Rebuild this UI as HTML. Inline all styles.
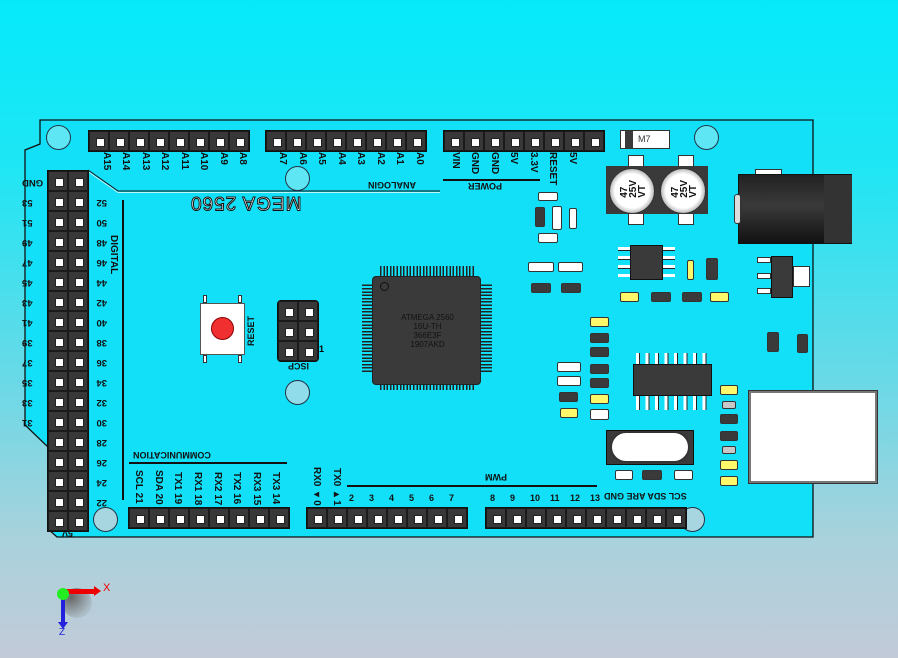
<!DOCTYPE html>
<html><head><meta charset="utf-8">
<style>
*{margin:0;padding:0;box-sizing:border-box}
body{width:898px;height:658px;overflow:hidden;position:relative;font-family:"Liberation Sans",sans-serif;
background:linear-gradient(180deg,#05eafa 0%,#1ee6f4 25%,#6fd8e6 60%,#a9d2dc 82%,#c2cad8 100%);}
.a{position:absolute}
.hdr{position:absolute;display:flex;background:#333;border:1px solid #111}
.hdr i,.grid i{display:block;width:20px;height:20px;border:1px solid #1a1a1a;background:#383838;position:relative}
.hdr i:after,.grid i:after{content:"";position:absolute;left:6px;top:6px;width:7px;height:7px;background:#fff;border:1px solid #222}
.grid{position:absolute;display:grid;grid-template-columns:20px 20px;background:#333;border:1px solid #111}
.hole{position:absolute;border-radius:50%;border:1px solid #234;background:#5fe6f4}
.vt{position:absolute;writing-mode:vertical-rl;font-size:10px;color:#111;font-weight:bold;line-height:10px;white-space:nowrap}
.ud{position:absolute;transform:rotate(180deg);font-size:10px;color:#111;font-weight:bold;white-space:nowrap}
.ln{position:absolute;background:#111}
.smd{position:absolute;border:1px solid #333;border-radius:2px}
.w{background:#fff}.y{background:#fff86a}.d{background:#3a3a3a}.g{background:#c8c8c8}
</style></head><body>

<!-- board -->
<svg class="a" style="left:0;top:0" width="898" height="658">
<polygon points="40,120 813,120 813,537 57,537 48,529 48,447 25,425 25,150 40,144" fill="#12e0f8" stroke="#111" stroke-width="1.3"/>
<polyline points="88,170 118,191 440,191" fill="none" stroke="#111" stroke-width="1"/>
<polyline points="88,170 118,191 440,191" fill="none" stroke="#fff" stroke-width="1" transform="translate(0,1.5)" opacity=".7"/>
</svg>

<!-- holes -->
<div class="hole" style="left:46px;top:125px;width:25px;height:25px"></div>
<div class="hole" style="left:285px;top:166px;width:25px;height:25px"></div>
<div class="hole" style="left:694px;top:125px;width:25px;height:25px"></div>
<div class="hole" style="left:285px;top:380px;width:25px;height:25px;background:#90dcea"></div>
<div class="hole" style="left:93px;top:507px;width:25px;height:25px;background:#a8d6e0"></div>
<div class="hole" style="left:680px;top:507px;width:25px;height:25px;background:#a8d6e0"></div>

<!-- top headers -->
<div class="hdr" style="left:88px;top:130px"><i></i><i></i><i></i><i></i><i></i><i></i><i></i><i></i></div>
<div class="hdr" style="left:265px;top:130px"><i></i><i></i><i></i><i></i><i></i><i></i><i></i><i></i></div>
<div class="hdr" style="left:443px;top:130px"><i></i><i></i><i></i><i></i><i></i><i></i><i></i><i></i></div>
<!-- top labels -->
<div class="vt" style="left:101px;top:152px">A15</div><div class="vt" style="left:120px;top:152px">A14</div>
<div class="vt" style="left:140px;top:152px">A13</div><div class="vt" style="left:159px;top:152px">A12</div>
<div class="vt" style="left:179px;top:152px">A11</div><div class="vt" style="left:198px;top:152px">A10</div>
<div class="vt" style="left:218px;top:152px">A9</div><div class="vt" style="left:237px;top:152px">A8</div>
<div class="vt" style="left:277px;top:152px">A7</div><div class="vt" style="left:297px;top:152px">A6</div>
<div class="vt" style="left:316px;top:152px">A5</div><div class="vt" style="left:336px;top:152px">A4</div>
<div class="vt" style="left:355px;top:152px">A3</div><div class="vt" style="left:375px;top:152px">A2</div>
<div class="vt" style="left:394px;top:152px">A1</div><div class="vt" style="left:414px;top:152px">A0</div>
<div class="vt" style="left:450px;top:152px">VIN</div><div class="vt" style="left:469px;top:152px">GND</div>
<div class="vt" style="left:489px;top:152px">GND</div><div class="vt" style="left:508px;top:152px">5V</div>
<div class="vt" style="left:528px;top:152px">3.3V</div><div class="vt" style="left:547px;top:152px">RESET</div>
<div class="vt" style="left:567px;top:152px">5V</div>
<div class="ln" style="left:443px;top:179px;width:97px;height:1.5px"></div>
<div class="ud" style="left:468px;top:181px;font-size:9px">POWER</div>
<div class="ud" style="left:368px;top:180px;font-size:9px">ANALOGIN</div>
<div class="ud" style="left:190px;top:191px;font-size:19px;font-weight:normal;letter-spacing:1px;color:#fff;-webkit-text-stroke:1px #111">MEGA 2560</div>

<!-- left header -->
<div class="grid" style="left:47px;top:170px">
<i></i><i></i><i></i><i></i><i></i><i></i><i></i><i></i><i></i><i></i><i></i><i></i><i></i><i></i><i></i><i></i><i></i><i></i>
<i></i><i></i><i></i><i></i><i></i><i></i><i></i><i></i><i></i><i></i><i></i><i></i><i></i><i></i><i></i><i></i><i></i><i></i>
</div>
<div class="a" style="left:22px;top:173px;width:24px;font-size:9.5px;font-weight:bold;line-height:20px;text-align:right;transform:rotate(180deg);transform-origin:12px 180px;color:#111">
</div>
<div class="a" style="left:22px;top:172px;width:24px;font-size:9.5px;font-weight:bold;line-height:20px;text-align:right;color:#111">
<div style="transform:rotate(180deg)">GND</div><div style="transform:rotate(180deg)">53</div><div style="transform:rotate(180deg)">51</div><div style="transform:rotate(180deg)">49</div><div style="transform:rotate(180deg)">47</div><div style="transform:rotate(180deg)">45</div><div style="transform:rotate(180deg)">43</div><div style="transform:rotate(180deg)">41</div><div style="transform:rotate(180deg)">39</div><div style="transform:rotate(180deg)">37</div><div style="transform:rotate(180deg)">35</div><div style="transform:rotate(180deg)">33</div><div style="transform:rotate(180deg)">31</div>
</div>
<div class="a" style="left:89px;top:192px;width:18px;font-size:9.5px;font-weight:bold;line-height:20px;color:#111">
<div style="transform:rotate(180deg)">52</div><div style="transform:rotate(180deg)">50</div><div style="transform:rotate(180deg)">48</div><div style="transform:rotate(180deg)">46</div><div style="transform:rotate(180deg)">44</div><div style="transform:rotate(180deg)">42</div><div style="transform:rotate(180deg)">40</div><div style="transform:rotate(180deg)">38</div><div style="transform:rotate(180deg)">36</div><div style="transform:rotate(180deg)">34</div><div style="transform:rotate(180deg)">32</div><div style="transform:rotate(180deg)">30</div><div style="transform:rotate(180deg)">28</div><div style="transform:rotate(180deg)">26</div><div style="transform:rotate(180deg)">24</div><div style="transform:rotate(180deg)">22</div>
</div>
<div class="ud" style="left:62px;top:528px;font-size:9px">5V</div>
<div class="ln" style="left:122px;top:200px;width:1.5px;height:300px"></div>
<div class="vt" style="left:108px;top:235px">DIGITAL</div>

<!-- bottom headers -->
<div class="hdr" style="left:128px;top:507px"><i></i><i></i><i></i><i></i><i></i><i></i><i></i><i></i></div>
<div class="hdr" style="left:306px;top:507px"><i></i><i></i><i></i><i></i><i></i><i></i><i></i><i></i></div>
<div class="hdr" style="left:485px;top:507px"><i></i><i></i><i></i><i></i><i></i><i></i><i></i><i></i><i></i><i></i></div>
<div class="ln" style="left:129px;top:462px;width:158px;height:1.5px"></div>
<div class="ud" style="left:133px;top:450px;font-size:9px">COMMUNICATION</div>
<div class="vt" style="left:133px;top:470px">SCL 21</div><div class="vt" style="left:153px;top:470px">SDA 20</div>
<div class="vt" style="left:172px;top:472px">TX1 19</div><div class="vt" style="left:192px;top:472px">RX1 18</div>
<div class="vt" style="left:212px;top:472px">RX2 17</div><div class="vt" style="left:231px;top:472px">TX2 16</div>
<div class="vt" style="left:251px;top:472px">RX3 15</div><div class="vt" style="left:270px;top:472px">TX3 14</div>
<div class="vt" style="left:311px;top:467px">RX0 ◂0</div><div class="vt" style="left:331px;top:468px">TX0 ▸1</div>
<div class="ln" style="left:347px;top:485px;width:250px;height:1.5px"></div>
<div class="ud" style="left:485px;top:472px;font-size:9px">PWM</div>
<div class="a" style="left:349px;top:493px;font-size:9px;font-weight:bold;color:#111;display:flex">
<span style="width:20px">2</span><span style="width:20px">3</span><span style="width:20px">4</span><span style="width:20px">5</span><span style="width:20px">6</span><span style="width:20px">7</span></div>
<div class="a" style="left:490px;top:493px;font-size:9px;font-weight:bold;color:#111;display:flex">
<span style="width:20px">8</span><span style="width:20px">9</span><span style="width:20px">10</span><span style="width:20px">11</span><span style="width:20px">12</span><span style="width:20px">13</span></div>
<div class="ud" style="left:604px;top:491px;font-size:9px">SCL SDA ARE GND</div>

<!-- reset -->
<div class="a w" style="left:200px;top:303px;width:45px;height:52px;border:1px solid #555"></div>
<div class="a w" style="left:203px;top:295px;width:4px;height:8px;border:1px solid #333"></div>
<div class="a w" style="left:238px;top:295px;width:4px;height:8px;border:1px solid #333"></div>
<div class="a w" style="left:203px;top:355px;width:4px;height:8px;border:1px solid #333"></div>
<div class="a w" style="left:238px;top:355px;width:4px;height:8px;border:1px solid #333"></div>
<div class="a" style="left:211px;top:317px;width:23px;height:23px;border-radius:50%;background:#f03030;border:1px solid #800"></div>
<div class="vt" style="left:246px;top:316px;transform:rotate(180deg);font-size:9px">RESET</div>
<!-- ISCP -->
<div class="grid" style="left:277px;top:300px;border-radius:4px"><i></i><i></i><i></i><i></i><i></i><i></i></div>
<div class="ud" style="left:288px;top:361px;font-size:9px">ISCP</div>
<div class="a" style="left:319px;top:344px;font-size:9px;font-weight:bold">1</div>

<!-- ATMEGA -->
<div class="a" style="left:362px;top:266px;width:130px;height:124px;
background:repeating-linear-gradient(90deg,#222 0 1.5px,transparent 1.5px 3.3px) 18px 0/94px 124px no-repeat,
repeating-linear-gradient(0deg,#222 0 1.5px,transparent 1.5px 3.3px) 0 18px/130px 88px no-repeat"></div>
<div class="a" style="left:372px;top:276px;width:109px;height:109px;background:#3a3a3a;border-radius:4px;border:1px solid #222"></div>
<div class="a" style="left:380px;top:282px;width:9px;height:9px;border:1px solid #111;border-radius:50%"></div>
<div class="a" style="left:400px;top:313px;width:55px;font-size:8px;line-height:9px;color:#111;text-align:center">ATMEGA 2560<br>16U-TH<br>366E3F<br>1907AKD</div>

<!-- top right -->
<div class="a w" style="left:620px;top:130px;width:50px;height:19px;border:1px solid #333"></div>
<div class="a d" style="left:625px;top:131px;width:8px;height:17px"></div>
<div class="a" style="left:638px;top:134px;font-size:9px;color:#333">M7</div>
<div class="a w" style="left:628px;top:155px;width:16px;height:12px;border:1px solid #333"></div>
<div class="a w" style="left:678px;top:155px;width:16px;height:12px;border:1px solid #333"></div>
<div class="a w" style="left:628px;top:213px;width:16px;height:12px;border:1px solid #333"></div>
<div class="a w" style="left:678px;top:213px;width:16px;height:12px;border:1px solid #333"></div>
<div class="a d" style="left:606px;top:166px;width:102px;height:48px"></div>
<div class="a" style="left:609px;top:168px;width:46px;height:46px;border-radius:50%;background:radial-gradient(circle,#fff 55%,#aaa 75%,#666);border:1px solid #333"></div>
<div class="a" style="left:660px;top:168px;width:46px;height:46px;border-radius:50%;background:radial-gradient(circle,#fff 55%,#aaa 75%,#666);border:1px solid #333"></div>
<div class="vt" style="left:620px;top:180px;transform:rotate(180deg);font-size:10px;line-height:9px;width:24px">47<br>25V<br>VT</div>
<div class="vt" style="left:671px;top:180px;transform:rotate(180deg);font-size:10px;line-height:9px;width:24px">47<br>25V<br>VT</div>

<!-- DC jack -->
<div class="a w" style="left:755px;top:169px;width:27px;height:7px;border:1px solid #333"></div>
<div class="a" style="left:738px;top:174px;width:114px;height:70px;background:linear-gradient(180deg,#222,#3a3a3a 45%,#111);border:1px solid #111"></div>
<div class="a" style="left:734px;top:194px;width:7px;height:30px;background:#ddd;border:1px solid #333;border-radius:3px"></div>
<div class="a" style="left:824px;top:175px;width:28px;height:68px;background:#333"></div>

<!-- smd stuff -->
<div class="smd w" style="left:538px;top:192px;width:20px;height:9px"></div>
<div class="smd d" style="left:535px;top:207px;width:10px;height:20px"></div>
<div class="smd w" style="left:552px;top:206px;width:10px;height:24px"></div>
<div class="smd w" style="left:569px;top:208px;width:8px;height:21px"></div>
<div class="smd w" style="left:538px;top:233px;width:20px;height:10px"></div>
<div class="smd w" style="left:528px;top:262px;width:26px;height:10px"></div>
<div class="smd w" style="left:558px;top:262px;width:25px;height:10px"></div>
<div class="smd d" style="left:531px;top:283px;width:20px;height:10px"></div>
<div class="smd d" style="left:561px;top:283px;width:20px;height:10px"></div>

<div class="a" style="left:618px;top:247px;width:57px;height:30px;background:repeating-linear-gradient(180deg,#fff 0 3px,#222 3px 4px,transparent 4px 9px)"></div>
<div class="a d" style="left:630px;top:245px;width:33px;height:35px;border:1px solid #111"></div>
<div class="smd y" style="left:687px;top:260px;width:7px;height:20px"></div>
<div class="smd d" style="left:706px;top:258px;width:12px;height:22px"></div>
<div class="smd y" style="left:620px;top:292px;width:19px;height:10px"></div>
<div class="smd d" style="left:651px;top:292px;width:20px;height:10px"></div>
<div class="smd d" style="left:682px;top:292px;width:20px;height:10px"></div>
<div class="smd y" style="left:710px;top:292px;width:19px;height:10px"></div>

<div class="smd y" style="left:590px;top:317px;width:19px;height:10px"></div>
<div class="smd d" style="left:590px;top:333px;width:19px;height:10px"></div>
<div class="smd d" style="left:590px;top:347px;width:19px;height:10px"></div>
<div class="smd d" style="left:590px;top:364px;width:19px;height:10px"></div>
<div class="smd d" style="left:590px;top:378px;width:19px;height:10px"></div>
<div class="smd y" style="left:590px;top:394px;width:19px;height:10px"></div>
<div class="smd w" style="left:590px;top:409px;width:19px;height:11px"></div>
<div class="smd w" style="left:557px;top:362px;width:24px;height:10px"></div>
<div class="smd w" style="left:557px;top:376px;width:24px;height:10px"></div>
<div class="smd d" style="left:559px;top:392px;width:19px;height:10px"></div>
<div class="smd y" style="left:560px;top:408px;width:18px;height:10px"></div>

<div class="a" style="left:636px;top:353px;width:75px;height:57px;background:repeating-linear-gradient(90deg,#fff 0 3px,#222 3px 4px,transparent 4px 9.5px)"></div>
<div class="a d" style="left:633px;top:364px;width:79px;height:32px;border:1px solid #111"></div>

<div class="smd y" style="left:720px;top:385px;width:18px;height:10px"></div>
<div class="smd g" style="left:722px;top:401px;width:14px;height:8px"></div>
<div class="smd d" style="left:720px;top:414px;width:18px;height:10px"></div>
<div class="smd d" style="left:720px;top:431px;width:18px;height:10px"></div>
<div class="smd g" style="left:722px;top:446px;width:14px;height:8px"></div>
<div class="smd y" style="left:720px;top:460px;width:18px;height:10px"></div>
<div class="smd y" style="left:720px;top:476px;width:18px;height:10px"></div>

<div class="a d" style="left:606px;top:430px;width:88px;height:35px;border:1px solid #111"></div>
<div class="a w" style="left:610px;top:431px;width:80px;height:32px;border-radius:16px;border:2px double #333"></div>
<div class="smd w" style="left:615px;top:470px;width:18px;height:10px"></div>
<div class="smd d" style="left:642px;top:470px;width:20px;height:10px"></div>
<div class="smd w" style="left:674px;top:470px;width:19px;height:10px"></div>

<!-- USB -->
<div class="a" style="left:749px;top:391px;width:128px;height:92px;background:#fff;border:2px solid #777;outline:1px solid #333"></div>

<!-- regulator -->
<div class="a w" style="left:793px;top:266px;width:17px;height:21px;border:1px solid #333"></div>
<div class="a w" style="left:757px;top:257px;width:14px;height:6px;border:1px solid #333"></div>
<div class="a w" style="left:757px;top:273px;width:14px;height:6px;border:1px solid #333"></div>
<div class="a w" style="left:757px;top:288px;width:14px;height:6px;border:1px solid #333"></div>
<div class="a d" style="left:771px;top:256px;width:22px;height:42px;border:1px solid #111"></div>
<div class="smd d" style="left:767px;top:332px;width:12px;height:20px"></div>
<div class="smd d" style="left:797px;top:334px;width:11px;height:19px"></div>

<!-- axis triad -->
<div class="a" style="left:62px;top:588px;width:30px;height:30px;border-radius:50%;background:radial-gradient(circle at 30% 30%,#666,rgba(120,120,120,.2) 70%,transparent)"></div>
<div class="a" style="left:64px;top:589px;width:32px;height:5px;background:#e00"></div>
<div class="a" style="left:94px;top:586px;width:0;height:0;border-left:7px solid #e00;border-top:5px solid transparent;border-bottom:5px solid transparent"></div>
<div class="a" style="left:61px;top:593px;width:4px;height:30px;background:#22d"></div>
<div class="a" style="left:58px;top:622px;width:0;height:0;border-top:7px solid #22d;border-left:5px solid transparent;border-right:5px solid transparent"></div>
<div class="a" style="left:57px;top:588px;width:12px;height:12px;border-radius:50%;background:#2e2"></div>
<div class="a" style="left:103px;top:582px;font-size:11px;color:#e00">X</div>
<div class="a" style="left:59px;top:627px;font-size:10px;color:#22d">Z</div>
</body></html>
